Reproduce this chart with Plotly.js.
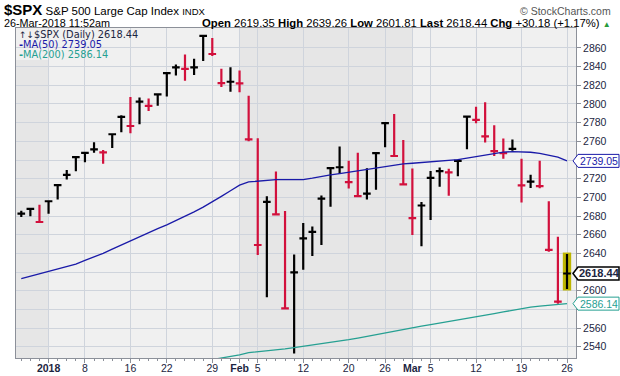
<!DOCTYPE html>
<html><head><meta charset="utf-8">
<script src="https://cdn.plot.ly/plotly-3.0.1.min.js"></script>
<style>html,body{margin:0;padding:0;background:#fff;}#chart{width:620px;height:376px;}</style>
</head><body><div id="chart"></div>
<script>
const days = ['2017-12-27','2017-12-28','2017-12-29',
'2018-01-02','2018-01-03','2018-01-04','2018-01-05','2018-01-08','2018-01-09','2018-01-10','2018-01-11','2018-01-12',
'2018-01-16','2018-01-17','2018-01-18','2018-01-19','2018-01-22','2018-01-23','2018-01-24','2018-01-25','2018-01-26',
'2018-01-29','2018-01-30','2018-01-31','2018-02-01','2018-02-02','2018-02-05','2018-02-06','2018-02-07','2018-02-08','2018-02-09',
'2018-02-12','2018-02-13','2018-02-14','2018-02-15','2018-02-16','2018-02-20','2018-02-21','2018-02-22','2018-02-23',
'2018-02-26','2018-02-27','2018-02-28','2018-03-01','2018-03-02','2018-03-05','2018-03-06','2018-03-07','2018-03-08','2018-03-09',
'2018-03-12','2018-03-13','2018-03-14','2018-03-15','2018-03-16','2018-03-19','2018-03-20','2018-03-21','2018-03-22','2018-03-23','2018-03-26'];
const high = [2685.64,2688.28,2692.12,
2695.89,2714.37,2729.29,2743.45,2748.51,2759.14,2750.80,2767.56,2787.85,
2807.54,2807.04,2805.83,2810.33,2833.03,2842.24,2852.97,2848.56,2872.87,
2870.62,2837.75,2839.26,2835.96,2808.92,2763.39,2701.04,2727.67,2685.27,2638.67,
2672.61,2668.84,2702.10,2731.51,2754.42,2739.19,2747.76,2731.26,2747.75,
2780.64,2789.15,2761.52,2730.89,2694.97,2728.09,2732.08,2730.60,2740.45,2786.57,
2796.98,2801.90,2777.11,2763.03,2761.85,2741.38,2724.22,2739.14,2695.68,2657.67,2639.26];
const low = [2678.91,2679.84,2673.61,
2682.36,2697.77,2719.07,2727.92,2737.60,2747.86,2736.06,2752.78,2769.64,
2768.64,2778.38,2792.56,2798.08,2808.12,2830.59,2824.81,2830.94,2846.18,
2851.48,2818.27,2813.04,2812.70,2759.97,2638.17,2593.07,2681.33,2580.56,2532.69,
2622.45,2637.08,2648.87,2689.82,2725.11,2709.54,2701.29,2697.77,2708.24,
2753.78,2744.22,2713.54,2659.65,2647.49,2675.75,2711.26,2701.74,2722.65,2751.54,
2779.26,2758.68,2744.38,2741.47,2749.97,2694.59,2710.05,2709.79,2641.59,2585.89,2601.81];
const close = [2682.62,2687.54,2673.61,
2695.81,2713.06,2723.99,2743.15,2747.71,2751.29,2748.23,2767.56,2786.24,
2776.42,2802.56,2798.03,2810.30,2832.97,2839.13,2837.54,2839.25,2872.87,
2853.53,2822.43,2823.81,2821.98,2762.13,2648.94,2695.14,2681.66,2581.00,2619.55,
2656.00,2662.94,2698.63,2731.20,2732.22,2716.26,2701.33,2703.96,2747.30,
2779.60,2744.28,2713.83,2677.67,2691.25,2720.94,2728.12,2726.80,2738.97,2786.57,
2783.02,2765.31,2749.48,2747.33,2752.01,2712.92,2716.94,2711.93,2643.69,2588.26,2618.44];
const prevClose = 2680.50;
const lastOpen = 2619.35;
const ma50 = [2613,2615.5,2618,
2620.5,2623,2625.5,2628.5,2632.5,2636,2640,2644.5,2649,
2653.5,2658,2662.5,2666.5,2670.5,2675,2680,2684.5,2689.5,
2695,2701,2707,2713,2716.5,2717.5,2718.5,2719,2719,2719,
2719,2720.5,2722.5,2724,2725.5,2727,2728.5,2730,2731.5,
2733,2734.5,2735.8,2736.5,2737.2,2738,2738.7,2739.5,2740.5,2742,
2743.8,2745.5,2747,2748.4,2749,2749,2748.3,2747.2,2745.5,2743,2739.05];
const ma200 = [null,null,null,
null,null,null,null,null,null,null,null,null,
null,null,null,null,null,null,null,null,2524.5,
2526,2527.7,2529.5,2531.3,2533.6,2534.5,2535.4,2536.5,2537.7,2539,
2540.3,2541.5,2543,2544.3,2545.8,2547.5,2549.3,2551.2,2553.2,
2555.2,2557,2558.8,2560.4,2562,2563.6,2565.2,2566.8,2568.5,2570.3,
2572,2573.7,2575.5,2577.3,2579.2,2581,2582.3,2583.4,2584.4,2585.3,2586.14];
const tickDates = ['2018-01-02','2018-01-08','2018-01-16','2018-01-22','2018-01-29','2018-02-01','2018-02-05',
'2018-02-12','2018-02-20','2018-02-26','2018-03-01','2018-03-05','2018-03-12','2018-03-19','2018-03-26'];
const tickLabels = ['<b>2018</b>','8','16','22','29','<b>Feb</b>','5','12','20','26','<b>Mar</b>','5','12','19','26'];
const yTicks = [2540,2560,2580,2600,2620,2640,2660,2680,2700,2720,2740,2760,2780,2800,2820,2840,2860];

const UP = '#000000', DN = '#d2103c', BLUE = '#1a1aa8', TEAL = '#26a092', NAVY = '#1c2541';
const x = days.map((d, i) => i);
const last = days.length - 1;

const up = {x: [], open: [], high: [], low: [], close: []};
const dn = {x: [], open: [], high: [], low: [], close: []};
close.forEach((c, i) => {
  const p = i ? close[i - 1] : prevClose;
  const t = c >= p ? up : dn;
  t.x.push(x[i]); t.open.push(c); t.high.push(high[i]); t.low.push(low[i]); t.close.push(c);
});
function ohlcTrace(d, col) {
  return Object.assign({type: 'ohlc', tickwidth: 0.42, hoverinfo: 'skip',
    increasing: {line: {color: col, width: 2.2}}, decreasing: {line: {color: col, width: 2.2}}}, d);
}
const traces = [
  {type: 'scatter', mode: 'lines', x: x, y: ma200, line: {color: TEAL, width: 1.3}, hoverinfo: 'skip', connectgaps: false},
  {type: 'scatter', mode: 'lines', x: x, y: ma50, line: {color: BLUE, width: 1.3}, hoverinfo: 'skip'},
  ohlcTrace(up, UP), ohlcTrace(dn, DN)
];

const xRange = [-0.58, 60.99];
const yRange = [2527.9, 2881.4];
const plotTop = 28, plotH = 330, plotL = 16, plotW = 560;
const py = p => 1 + (plotTop - p) / plotH;
const px = p => (p - plotL) / plotW;

const shapes = [];
const monthStart = [];
days.forEach((d, i) => { if (i === 0 || d.slice(0, 7) !== days[i - 1].slice(0, 7)) monthStart.push(i); });
monthStart.forEach((s, k) => {
  if (k % 2 === 0) {
    const x0 = k === 0 ? xRange[0] : s;
    const x1 = k + 1 < monthStart.length ? monthStart[k + 1] : xRange[1];
    shapes.push({type: 'rect', layer: 'below', xref: 'x', yref: 'paper', x0: x0, x1: x1, y0: 0, y1: 1,
      fillcolor: '#e6e6e6', line: {width: 0}});
  }
});
shapes.push({type: 'rect', layer: 'below', xref: 'paper', yref: 'paper', x0: 0, x1: px(130), y0: py(60), y1: 1,
  fillcolor: '#f0f0f0', line: {width: 0}});
shapes.push({type: 'rect', layer: 'between', xref: 'x', yref: 'y', x0: x[last] - 0.46, x1: x[last] + 0.46,
  y0: low[last] - 1.6, y1: high[last] + 1.6, fillcolor: '#bdb500', line: {width: 0}});
const tagVals = [ma50[last], ma200[last], close[last]];
function tag(v, col, lw) {
  shapes.push({type: 'path', layer: 'above', xref: 'paper', yref: 'y', xsizemode: 'pixel', ysizemode: 'pixel',
    xanchor: 1, yanchor: v, path: 'M -3 0 L 2 6.5 L 43 6.5 L 43 -6.5 L 2 -6.5 Z',
    fillcolor: '#ffffff', line: {color: col, width: lw}});
}
tag(ma50[last], BLUE, 1);
tag(ma200[last], TEAL, 1);
tag(close[last], '#000000', 1.5);

const fmt = v => v.toFixed(2);
const chg = close[last] - close[last - 1];
const pct = chg / close[last - 1] * 100;
const F = 'Liberation Sans, Arial, sans-serif';
const LF = 'DejaVu Sans, Verdana, sans-serif';
const sp = (size, s) => '<span style="font-size:' + size + 'px">' + s + '</span>';
const annotations = [
  {xref: 'paper', yref: 'paper', x: 0, y: py(30.5), xanchor: 'left', yanchor: 'bottom', showarrow: false, xshift: -13,
    align: 'left', borderpad: 0,
    text: sp(15, '<b>$SPX</b>') + sp(11.5, ' S&P 500 Large Cap Index ') + sp(9.5, 'INDX') + '<br>' + sp(10.8, '26-Mar-2018 11:52am'),
    font: {family: F, size: 9.6, color: '#000'}},
  {xref: 'paper', yref: 'paper', x: px(612), y: py(30.5), xanchor: 'right', yanchor: 'bottom', showarrow: false,
    align: 'right', borderpad: 0,
    text: '<span style="font-size:10.5px;color:#555">© StockCharts.com</span><br>' +
      sp(11.3, '<b>Open</b> ' + fmt(lastOpen) + ' <b>High</b> ' + fmt(high[last]) + ' <b>Low</b> ' + fmt(low[last]) +
      ' <b>Last</b> ' + fmt(close[last]) + ' <b>Chg</b> +' + fmt(chg) + ' (+' + pct.toFixed(2) + '%) ') +
      '<span style="color:#2a9a3a;font-size:8px">▲</span>',
    font: {family: F, size: 9.6, color: '#000'}},
  {xref: 'paper', yref: 'paper', x: 0, y: py(34), xanchor: 'left', yanchor: 'middle', showarrow: false, xshift: 1,
    text: '<span style="font-size:9px">↑↓</span>$SPX (Daily) ' + fmt(close[last]), font: {family: LF, size: 9.8, color: NAVY}},
  {xref: 'paper', yref: 'paper', x: 0, y: py(44.5), xanchor: 'left', yanchor: 'middle', showarrow: false, xshift: 1,
    text: '<b>-</b>MA(50) ' + fmt(ma50[last]), font: {family: LF, size: 9.8, color: BLUE}},
  {xref: 'paper', yref: 'paper', x: 0, y: py(54.5), xanchor: 'left', yanchor: 'middle', showarrow: false, xshift: 1,
    text: '<b>-</b>MA(200) ' + fmt(ma200[last]), font: {family: LF, size: 9.8, color: TEAL}},
  {xref: 'paper', yref: 'y', x: 1, y: ma50[last], xanchor: 'left', yanchor: 'middle', showarrow: false, xshift: 2,
    text: fmt(ma50[last]), font: {family: F, size: 10.5, color: BLUE}},
  {xref: 'paper', yref: 'y', x: 1, y: ma200[last], xanchor: 'left', yanchor: 'middle', showarrow: false, xshift: 2,
    text: fmt(ma200[last]), font: {family: F, size: 10.5, color: TEAL}},
  {xref: 'paper', yref: 'y', x: 1, y: close[last], xanchor: 'left', yanchor: 'middle', showarrow: false, xshift: 1,
    text: '<b>' + fmt(close[last]) + '</b>', font: {family: F, size: 11, color: NAVY}}
];

const axisCommon = {showgrid: true, gridcolor: '#cfd4dc', gridwidth: 1, zeroline: false, showline: true, mirror: true,
  linecolor: '#8c9099', linewidth: 1, ticks: 'outside', ticklen: 4, tickcolor: '#8c9099', fixedrange: true,
  tickfont: {family: F, size: 10.5, color: NAVY}};
const layout = {
  width: 620, height: 376,
  margin: {l: plotL, r: 620 - plotL - plotW, t: plotTop, b: 376 - plotTop - plotH, pad: 0},
  paper_bgcolor: '#ffffff', plot_bgcolor: '#f0f0f0', showlegend: false, hovermode: false,
  xaxis: Object.assign({}, axisCommon, {type: 'linear', range: xRange, tickmode: 'array',
    tickvals: tickDates.map(d => days.indexOf(d)), ticktext: tickLabels, rangeslider: {visible: false},
    ticklabelstandoff: -4,
    minor: {dtick: 1, tick0: 0, ticks: 'outside', ticklen: 2, tickcolor: '#8c9099', showgrid: false}}),
  yaxis: Object.assign({}, axisCommon, {side: 'right', range: yRange, tickmode: 'array', tickvals: yTicks,
    ticktext: yTicks.map(t => tagVals.some(v => Math.abs(v - t) < 11) ? '' : String(t))}),
  shapes: shapes, annotations: annotations
};
Plotly.newPlot('chart', traces, layout, {staticPlot: true, displayModeBar: false});
</script></body></html>
